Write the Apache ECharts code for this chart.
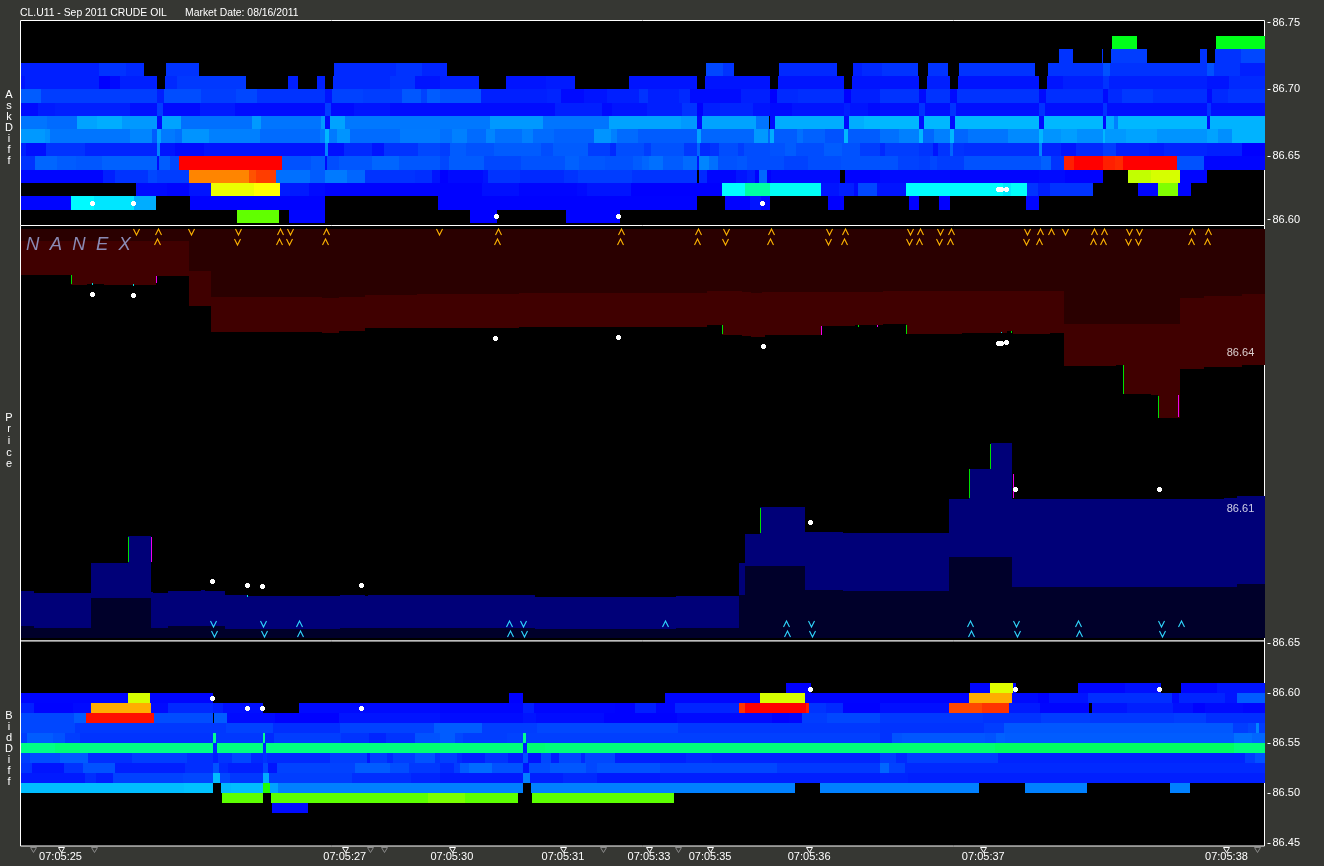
<!DOCTYPE html>
<html><head><meta charset="utf-8">
<style>html,body{margin:0;padding:0;background:#363733}#c{width:1324px;height:866px}</style>
<script src="https://cdn.jsdelivr.net/npm/echarts@6/dist/echarts.min.js"></script>
</head><body><div id="c"></div>
<script>
// x is the event sequence (the time labels are not evenly spaced); y is price.
// Heat rows: flat triplets of start, end, intensity (0 blue .. 1 red)
const askRow8673=[1112,1137,.475,1216,1264,.475];
const askRow8672=[1059,1073,.05,1102,1103,.05,1111,1147,.06,1200,1207,.05,1215,1241,.05,1241,1264,.07];
const askRow8671=[21,99,.03,99,126,.05,126,144,.04,166,199,.05,334,396,.04,396,422,.05,422,447,.035,706,723,.07,723,734,.05,779,837,.04,853,862,.03,862,882,.04,882,918,.05,928,948,.05,959,1035,.05,1048,1103,.05,1103,1110,.08,1110,1207,.05,1207,1214,.08,1214,1240,.05,1240,1264,.03];
const askRow8670=[21,25,.02,25,99,.03,99,110,0,110,120,.01,120,157,.03,165,177,.04,177,246,.055,288,298,.03,317,325,.03,333,390,.04,390,415,.05,415,440,.02,440,479,.03,506,546,.02,546,575,.025,629,697,.02,705,770,.02,778,844,.02,852,919,.02,927,950,.03,958,1039,.02,1047,1063,.02,1063,1103,.03,1103,1109,.05,1109,1207,.03,1207,1229,.02,1229,1264,.04];
const askRow8669=[21,41,.09,41,157,.06,157,164,.03,164,201,.075,201,236,.06,236,257,.07,257,325,.05,325,332,.02,332,363,.065,363,402,.06,402,421,.085,421,427,.065,427,440,.09,440,481,.08,481,547,.03,547,561,.035,561,584,.01,584,607,.02,607,639,.03,639,648,.05,648,679,.03,679,690,.04,690,741,.012,741,770,.03,770,777,0,777,798,.04,798,844,.045,844,851,0,851,880,.03,880,919,.05,919,926,.01,926,950,.05,950,957,.01,957,1039,.05,1039,1046,.01,1046,1103,.045,1103,1108,.01,1108,1122,.04,1122,1153,.055,1153,1207,.045,1207,1212,.01,1212,1228,.04,1228,1264,.05];
const askRow8668=[21,38,.01,38,55,.025,55,130,.03,130,157,.015,157,163,.06,163,200,.01,200,235,.025,235,325,.012,325,331,.06,331,354,.01,354,390,.02,390,555,.012,555,602,.03,602,612,.01,612,647,.02,647,682,.03,682,697,.05,697,703,0,703,720,.03,720,753,.035,753,770,.02,770,792,.01,792,844,.02,844,850,.03,850,868,.02,868,880,.01,880,919,.015,919,925,.05,925,950,.015,950,956,.05,956,1039,.015,1039,1045,.05,1045,1103,.015,1103,1107,.05,1107,1207,.015,1207,1211,.05,1211,1264,.015];
const askRow8667=[21,47,.115,47,77,.105,77,97,.16,97,122,.17,122,157,.15,157,162,.01,162,181,.16,181,252,.11,252,261,.15,261,321,.115,321,325,.15,325,330,.01,330,345,.16,345,490,.118,490,543,.15,543,609,.115,609,681,.16,681,697,.15,697,702,.01,702,756,.16,756,769,.115,770,775,.01,775,844,.17,844,849,.01,849,864,.17,864,919,.18,919,924,.015,924,950,.18,950,955,.01,955,1039,.18,1039,1044,.01,1044,1103,.18,1103,1106,.01,1106,1114,.17,1114,1118,.125,1118,1207,.18,1207,1210,.01,1210,1264,.175];
const askRow8666=[21,45,.15,45,50,.14,50,130,.115,130,152,.13,152,157,.09,157,161,.16,161,175,.12,175,182,.11,182,209,.145,209,260,.125,260,320,.105,320,325,.12,325,329,.18,329,337,.12,337,350,.145,350,400,.105,400,440,.12,440,452,.11,452,467,.125,467,486,.105,486,495,.13,495,522,.11,522,533,.125,533,554,.105,554,594,.095,594,611,.145,611,617,.125,617,638,.105,638,697,.09,697,701,.16,701,754,.1,754,768,.15,768,770,.1,770,774,.17,774,797,.09,797,803,.11,803,825,.095,825,844,.08,844,848,.18,848,880,.09,880,899,.11,899,919,.125,919,923,.18,923,934,.1,934,950,.125,950,954,.18,954,968,.1,968,1008,.115,1008,1039,.135,1039,1043,.18,1043,1061,.145,1061,1077,.155,1077,1103,.14,1103,1105,.18,1105,1126,.15,1126,1157,.16,1157,1207,.145,1207,1218,.16,1218,1232,.14,1232,1264,.175];
const askRow8665=[21,26,.03,26,46,.015,46,85,.05,85,157,.035,157,160,.13,160,175,.02,175,204,.01,204,325,.02,325,328,.13,328,344,.015,344,372,.04,372,384,.02,384,418,.05,418,440,.07,440,450,.06,450,466,.09,466,494,.08,494,541,.09,541,553,.075,553,588,.09,588,610,.06,610,616,.04,616,644,.075,644,651,.06,651,684,.08,684,697,.055,697,700,.1,700,710,.04,710,719,.05,719,738,.075,738,744,.06,744,770,.075,770,785,.08,785,796,.09,796,824,.075,824,842,.09,842,860,.08,860,880,.06,880,885,.04,885,919,.06,919,933,.05,933,938,.02,938,950,.05,950,953,.1,953,964,.05,964,1039,.045,1039,1042,.13,1042,1061,.035,1061,1076,.02,1076,1103,.04,1103,1116,.06,1116,1149,.03,1149,1164,.025,1164,1207,.035,1207,1242,.03,1242,1264,0];
const askRow8664=[21,35,.05,35,57,.1,57,76,.09,76,102,.085,102,157,.095,157,159,.01,159,170,.09,170,179,.07,179,282,1,282,311,.08,311,325,.09,325,327,.01,327,339,.075,339,372,.085,372,399,.1,399,440,.085,440,449,.07,449,484,.09,484,521,.07,521,565,.08,565,579,.095,579,605,.085,605,633,.08,633,642,.09,642,649,.1,649,663,.11,663,683,.09,683,697,.105,697,699,.02,699,709,.13,709,718,.11,718,737,.08,737,747,.085,747,784,.075,784,808,.065,808,841,.075,841,898,.08,898,919,.065,919,930,.06,930,937,.07,937,964,.06,964,1041,.08,1041,1051,.095,1051,1064,.05,1064,1074,.97,1074,1103,1,1103,1115,.97,1115,1123,.96,1123,1177,1,1177,1204,.08,1204,1264,.005];
const askRow8663=[21,103,.005,103,115,.03,115,148,.05,148,157,.07,157,189,.06,189,249,.87,249,256,.92,256,276,.94,276,310,.11,310,325,.09,325,347,.12,347,365,.1,365,415,.05,415,432,.045,432,440,.02,440,448,0,448,483,.01,483,488,.02,488,520,.05,520,564,.04,564,578,.05,578,632,.06,632,697,.05,699,707,.04,707,736,.005,736,747,.02,747,755,.03,755,759,0,759,767,.1,767,771,0,771,840,.01,845,880,.002,880,950,.01,950,1039,.005,1039,1065,.01,1065,1103,.002,1128,1151,.69,1151,1180,.71,1180,1207,.005];
const askRow8662=[136,167,.01,167,189,.005,189,211,.02,211,254,.73,254,280,.75,280,309,.025,309,325,.01,325,440,.003,440,482,.002,482,519,.015,519,577,.005,577,587,.01,587,631,.02,631,722,0,722,745,.25,745,770,.34,770,821,.26,821,839,.02,839,854,.03,854,858,.01,858,877,.07,877,906,.02,906,1003,.25,1003,1011,.23,1011,1027,.255,1027,1038,.05,1038,1050,.03,1050,1093,.05,1138,1158,.005,1158,1178,.625,1178,1191,.005];
const askRow8661=[21,71,.005,71,94,.245,94,134,.225,134,156,.17,190,325,.002,438,697,.002,725,750,.002,750,761,.02,761,770,.005,828,844,0,909,919,0,939,950,0,1026,1039,.005];
const askRow8660=[237,279,.595,289,325,.005,470,497,0,566,620,.002];

const bidRow8660=[786,811,0,970,990,.005,990,1013,.72,1013,1016,.005,1078,1125,.005,1125,1161,.015,1181,1217,.005,1217,1264,.02];
const bidRow8659=[21,128,.005,128,150,.71,150,213,.005,509,523,0,665,760,.005,760,805,.71,805,880,.004,880,969,.003,969,1012,.83,1012,1038,.01,1038,1049,.002,1049,1088,.02,1088,1172,.045,1172,1179,.01,1179,1225,.035,1225,1237,.02,1237,1264,.09];
const bidRow8658=[21,34,.03,34,73,.003,73,91,.01,91,151,.83,151,168,.01,168,213,.04,213,223,.03,223,263,.015,299,440,.01,440,523,.005,523,534,.03,534,615,.005,615,635,.002,635,656,.03,656,675,.005,675,739,.035,739,745,.95,745,806,1,806,809,.97,809,826,.05,826,843,.04,843,880,.002,880,949,.015,949,982,.93,982,1009,.95,1009,1040,.025,1040,1089,.005,1092,1127,.02,1127,1173,.03,1173,1193,.015,1193,1205,.002,1205,1243,.01,1243,1264,.005];
const bidRow8657=[21,74,.07,74,86,.09,86,154,.985,154,213,.075,214,227,.09,227,275,.01,275,339,.001,339,440,.02,440,523,.012,523,536,.02,536,604,.012,604,677,.002,677,772,.01,772,789,.001,789,802,.005,802,827,.06,827,880,.07,880,983,.055,983,1041,.05,1041,1090,.06,1090,1174,.055,1174,1206,.06,1206,1264,.045];
const bidRow8656=[21,75,.07,75,226,.055,226,273,.065,273,340,.045,340,434,.065,434,482,.09,482,537,.06,537,678,.07,678,880,.055,880,984,.05,984,1004,.06,1004,1233,.085,1233,1248,.06,1248,1256,.07,1256,1259,.13,1259,1264,.06];
const bidRow8655=[21,27,.06,27,53,.09,53,65,.08,65,80,.06,80,213,.05,213,216,.36,216,263,.055,263,265,.36,265,274,.04,274,341,.06,341,369,.05,369,386,.035,386,415,.05,415,440,.08,440,455,.09,455,463,.07,463,507,.06,507,523,.065,523,526,.36,526,880,.062,880,892,.05,892,902,.08,902,985,.085,985,996,.08,996,1005,.095,1005,1234,.09,1234,1252,.11,1252,1264,.1];
const bidRow8654=[21,55,.37,55,80,.385,80,213,.37,213,217,.04,217,263,.375,263,266,.04,266,410,.375,410,440,.39,440,523,.38,523,527,.03,527,545,.39,545,880,.38,880,995,.39,995,1234,.405,1234,1264,.38];
const bidRow8653=[21,30,.06,30,60,.075,60,88,.09,88,132,.045,132,187,.06,187,213,.045,213,218,.03,218,232,.05,232,251,.07,251,263,.04,263,267,.05,267,330,.04,330,367,.06,367,370,.02,370,387,.06,387,393,.04,393,415,.06,415,435,.08,435,440,.05,440,457,.06,457,462,.04,462,485,.03,485,508,.05,508,523,.03,523,528,.08,528,541,.02,541,551,.07,551,559,.03,559,581,.07,581,585,.04,585,615,.07,615,686,.03,686,712,.04,712,880,.035,880,896,.06,896,907,.04,907,998,.06,998,1245,.035,1245,1255,.06,1255,1264,.08];
const bidRow8652=[21,32,.05,32,64,.02,64,83,.05,83,115,.08,115,185,.03,185,213,.045,213,219,.08,219,228,.04,228,263,.03,263,268,.07,268,277,.02,277,355,.065,355,390,.09,390,409,.075,409,440,.055,440,454,.04,454,460,.06,460,469,.09,469,492,.105,492,523,.08,523,529,.02,529,550,.075,550,586,.085,586,597,.07,597,660,.08,660,777,.07,777,880,.055,880,889,.1,889,905,.065,905,1264,.04];
const bidRow8651=[21,85,.025,85,96,.045,96,113,.03,113,183,.065,183,213,.07,213,220,.185,220,230,.07,230,263,.055,263,269,.17,269,352,.06,352,411,.045,411,440,.035,440,523,.025,523,530,.125,530,563,.03,563,597,.04,597,660,.025,660,880,.03,880,908,.035,908,1264,.03];
const bidRow8650=[21,184,.185,184,213,.19,221,231,.18,231,263,.185,263,270,.53,270,278,.16,278,523,.125,531,795,.125,820,979,.125,1025,1087,.125,1170,1190,.125];
const bidRow8649=[222,263,.59,271,428,.59,428,465,.62,465,518,.59,532,674,.59];
const bidRow8648=[272,308,.01];

const askRowPrices=[86.73,86.72,86.71,86.70,86.69,86.68,86.67,86.66,86.65,86.64,86.63,86.62,86.61,86.60];
const askRows=[askRow8673,askRow8672,askRow8671,askRow8670,askRow8669,askRow8668,askRow8667,askRow8666,askRow8665,askRow8664,askRow8663,askRow8662,askRow8661,askRow8660];
const bidRowPrices=[86.60,86.59,86.58,86.57,86.56,86.55,86.54,86.53,86.52,86.51,86.50,86.49,86.48];
const bidRows=[bidRow8660,bidRow8659,bidRow8658,bidRow8657,bidRow8656,bidRow8655,bidRow8654,bidRow8653,bidRow8652,bidRow8651,bidRow8650,bidRow8649,bidRow8648];

// Price panel step edges: start, end, price
const askOuterEdge=[[21,189,86.6622],[189,211,86.6562],[211,322,86.6510],[322,339,86.6508],[339,365,86.6510],[365,417,86.6514],[417,519,86.6516],[519,707,86.6518],[707,742,86.6522],[742,751,86.6520],[751,762,86.6518],[762,883,86.6520],[883,1064,86.6522],[1064,1180,86.6456],[1180,1204,86.6508],[1204,1242,86.6512],[1242,1264,86.6516]];
const askInnerEdge=[[21,71,86.6554],[71,87,86.6534],[87,104,86.6537],[104,156,86.6535],[156,189,86.6552],[189,211,86.6492],[211,322,86.6440],[322,339,86.6438],[339,365,86.6442],[365,519,86.6448],[519,707,86.6450],[707,722,86.6454],[722,742,86.6434],[742,751,86.6432],[751,765,86.6430],[765,821,86.6434],[821,855,86.6452],[855,883,86.6454],[883,906,86.6456],[906,962,86.6436],[962,1007,86.6438],[1007,1013,86.6442],[1013,1050,86.6436],[1050,1064,86.6438],[1064,1116,86.6372],[1116,1123,86.6374],[1123,1151,86.6316],[1151,1158,86.6314],[1158,1180,86.6268],[1180,1204,86.6366],[1204,1242,86.6370],[1242,1264,86.6374]];
const bidUpperEdge=[[21,34,86.5922],[34,91,86.5918],[91,128,86.5978],[128,151,86.6032],[151,153,86.5920],[153,168,86.5918],[168,201,86.5922],[201,205,86.5924],[205,225,86.5922],[225,247,86.5914],[247,340,86.5912],[340,365,86.5914],[365,368,86.5912],[368,535,86.5914],[535,676,86.5910],[676,739,86.5912],[739,745,86.5978],[745,760,86.6036],[760,805,86.6090],[805,843,86.6040],[843,949,86.6038],[949,969,86.6106],[969,991,86.6166],[991,1012,86.6218],[1012,1224,86.6106],[1224,1237,86.6108],[1237,1264,86.6112]];
const bidLowerEdge=[[21,34,86.5852],[34,91,86.5848],[91,151,86.5908],[151,168,86.5848],[168,225,86.5852],[225,340,86.5846],[340,535,86.5848],[535,676,86.5846],[676,739,86.5848],[739,745,86.5914],[745,805,86.5972],[805,843,86.5924],[843,949,86.5922],[949,1012,86.5990],[1012,1237,86.5930],[1237,1264,86.5936]];
const askBandTop=86.6646, bidBandBase=86.5828;

// Trade-through marks: sequence, upper price, lower price
const greenMarks=[[71,86.6554,86.6536],[722,86.6454,86.6436],[858,86.6454,86.6450],[906,86.6454,86.6436],[1011,86.6442,86.6438],[1123,86.6374,86.6316],[1158,86.6312,86.6268],[128,86.6030,86.5980],[760,86.6088,86.6038],[969,86.6166,86.6108],[990,86.6216,86.6166]];
const magentaMarks=[[156,86.6552,86.6538],[821,86.6452,86.6434],[877,86.6454,86.6450],[1178,86.6314,86.6270],[151,86.6030,86.5980],[1013,86.6156,86.6108]];
const cyanMarks=[[92,86.6538,86.6534],[133,86.6536,86.6532],[1001,86.6440,86.6438],[247,86.5914,86.5910]];

// Trades (white dots)
const askTrades=[[92,86.6150],[133,86.6150],[496,86.6052],[618,86.6052],[762,86.6150],[998,86.6254],[1001,86.6254],[1006,86.6254]];
const priceTrades=[[92,86.6516],[133,86.6514],[212,86.5942],[247,86.5934],[262,86.5932],[361,86.5934],[495,86.6428],[618,86.6430],[763,86.6412],[810,86.6060],[998,86.6418],[1001,86.6418],[1006,86.6420],[1015,86.6126],[1159,86.6126]];
const bidTrades=[[212,86.5953],[247,86.5853],[262,86.5853],[361,86.5853],[810,86.6043],[1015,86.6043],[1159,86.6043]];

// Chevrons: sequence, direction (1 up, 0 down)
const askChevronsHigh=[[136,0],[158,1],[191,0],[238,0],[280,1],[290,0],[326,1],[439,0],[498,1],[621,1],[698,1],[726,0],[771,1],[829,0],[845,1],[910,0],[920,1],[940,0],[951,1],[1027,0],[1040,1],[1051,1],[1065,0],[1094,1],[1104,1],[1129,0],[1139,0],[1192,1],[1208,1]];
const askChevronsLow=[[157,1],[237,0],[279,1],[289,0],[325,1],[497,1],[620,1],[697,1],[725,0],[770,1],[828,0],[844,1],[909,0],[919,1],[939,0],[950,1],[1026,0],[1039,1],[1093,1],[1103,1],[1128,0],[1138,0],[1191,1],[1207,1]];
const bidChevronsHigh=[[213,0],[263,0],[299,1],[509,1],[523,0],[665,1],[786,1],[811,0],[970,1],[1016,0],[1078,1],[1161,0],[1181,1]];
const bidChevronsLow=[[214,0],[264,0],[300,1],[510,1],[524,0],[787,1],[812,0],[971,1],[1017,0],[1079,1],[1162,0]];
const chevronRowPrices={askHigh:86.6640,askLow:86.6620,bidHigh:86.5856,bidLow:86.5836};

// Axes
const timeTickValues=[61,345,452,563,649,710,809,983,1226];
const timeTickLabels=['07:05:25','07:05:27','07:05:30','07:05:31','07:05:33','07:05:35','07:05:36','07:05:37','07:05:38'];
const minorTickValues=[33,94,370,384,603,678,1257];
const askAxisTicks=[86.75,86.70,86.65,86.6025];
const bidAxisTicks=[86.65,86.60,86.55,86.50,86.45];
const lastPriceLabels=[[1240,86.6398,'86.64'],[1240,86.6086,'86.61']];

// ---- drawing
const jetStops=[[0,0,255],[0,255,255],[0,255,0],[255,255,0],[255,0,0]];
function jet(v){const t=Math.min(.9999,Math.max(0,v))*4,i=Math.floor(t),f=t-i,a=jetStops[i],b=jetStops[i+1];
  return 'rgb('+a.map((c,k)=>Math.round(c+(b[k]-c)*f)).join(',')+')';}
function rect(api,x0,x1,pTop,pBot,fill){
  const a=api.coord([x0,pTop]),b=api.coord([x1,pBot]);
  const l=Math.round(a[0]),t=Math.round(a[1]),r=Math.round(b[0]),bt=Math.round(b[1]);
  return {type:'rect',shape:{x:l,y:t,width:Math.max(1,r-l),height:Math.max(1,bt-t)},style:{fill:fill}};
}
function cellSeries(rows,prices,g,rowStep){
  const data=[];
  rows.forEach((row,i)=>{for(let k=0;k<row.length;k+=3)data.push([row[k],row[k+1],prices[i],row[k+2]]);});
  return {type:'custom',xAxisIndex:g,yAxisIndex:g,silent:true,clip:true,data:data,
    renderItem:(p,api)=>rect(api,api.value(0),api.value(1),api.value(2)+rowStep,api.value(2),jet(api.value(3)))};
}
function askBand(edge,color){return {type:'custom',xAxisIndex:1,yAxisIndex:1,silent:true,clip:true,data:edge,
  renderItem:(p,api)=>rect(api,api.value(0),api.value(1),askBandTop,api.value(2),color)};}
function bidBand(edge,color){return {type:'custom',xAxisIndex:1,yAxisIndex:1,silent:true,clip:true,data:edge,
  renderItem:(p,api)=>rect(api,api.value(0),api.value(1),api.value(2),bidBandBase,color)};}
function markSeries(marks,color){return {type:'custom',xAxisIndex:1,yAxisIndex:1,silent:true,data:marks,
  renderItem:(p,api)=>{const a=api.coord([api.value(0),api.value(1)]),b=api.coord([api.value(0),api.value(2)]);
    return {type:'rect',shape:{x:Math.round(a[0]),y:Math.round(a[1]),width:1,height:Math.max(1,Math.round(b[1]-a[1]))},style:{fill:color}};}};}
function chevrons(list,price,color){return {type:'custom',xAxisIndex:1,yAxisIndex:1,silent:true,data:list,
  renderItem:(p,api)=>{const c=api.coord([api.value(0),price]),x=Math.round(c[0])+.5,y=Math.round(c[1]),up=api.value(1)===1;
    return {type:'polyline',shape:{points:up?[[x-3,y+3],[x,y-3],[x+3,y+3]]:[[x-3,y-3],[x,y+3],[x+3,y-3]]},style:{fill:null,stroke:color,lineWidth:1.1}};}};}
function dots(list,g){return {type:'custom',xAxisIndex:g,yAxisIndex:g,silent:true,data:list,z:5,
  renderItem:(p,api)=>{const c=api.coord([api.value(0),api.value(1)]),x=Math.round(c[0]),y=Math.round(c[1]);
    return {type:'group',children:[
      {type:'rect',shape:{x:x-2,y:y-1,width:5,height:3},style:{fill:'#fff'}},
      {type:'rect',shape:{x:x-1,y:y-2,width:3,height:5},style:{fill:'#fff'}}]};}};}
function tickTriangles(list,color){return {type:'custom',xAxisIndex:2,yAxisIndex:2,silent:true,clip:false,data:list.map(v=>[v,86.4473]),
  renderItem:(p,api)=>{const c=api.coord([api.value(0),api.value(1)]),x=Math.round(c[0])+.5,y=Math.round(c[1])+1.5;
    return {type:'polygon',shape:{points:[[x-3,y],[x+3,y],[x,y+5]]},style:{fill:null,stroke:color,lineWidth:1}};}};}

const LABEL='#ffffff',FONT='"Liberation Sans",Arial,sans-serif';
const side=(text,top,lh)=>({text:text,left:9,top:top,padding:0,textAlign:'center',textStyle:{color:LABEL,fontSize:11,fontWeight:'normal',fontFamily:FONT,lineHeight:lh}});
const plain=(text,left,top)=>({text:text,left:left,top:top,padding:0,textStyle:{color:LABEL,fontSize:10.4,fontWeight:'normal',fontFamily:FONT}});
const gridBase={left:20.5,width:1244,show:true,backgroundColor:'#000',borderColor:'#fff',borderWidth:1,containLabel:false};
const xBase={type:'value',min:21,max:1264,axisLine:{show:false},axisTick:{show:false},splitLine:{show:false},axisLabel:{show:false}};
const yRight=(g,min,max,ticks)=>({type:'value',gridIndex:g,position:'right',min:min,max:max,offset:3,scale:true,
  splitLine:{show:false},axisLine:{show:false},
  axisTick:{show:true,length:3,customValues:ticks,lineStyle:{color:'#fff'}},
  axisLabel:{customValues:ticks,color:LABEL,fontSize:11,fontFamily:FONT,margin:5,padding:[5,0,0,0],formatter:v=>v.toFixed(2),hideOverlap:false}});

const option={
  animation:false,backgroundColor:'#363733',
  title:[plain('CL.U11 - Sep 2011 CRUDE OIL',20,8),plain('Market Date: 08/16/2011',185,8),
    side('A\ns\nk\nD\ni\nf\nf',89,11),side('P\nr\ni\nc\ne',412,11.6),side('B\ni\nd\nD\ni\nf\nf',710,11),
    {text:'N  A  N  E  X',left:26,top:235,padding:0,textStyle:{color:'#8a8ab4',fontSize:18.5,fontStyle:'italic',fontWeight:'normal',fontFamily:FONT}}],
  grid:[Object.assign({top:20.5,height:205},gridBase),Object.assign({top:225.5,height:415.5},gridBase),Object.assign({top:641,height:205},gridBase)],
  xAxis:[Object.assign({gridIndex:0},xBase),Object.assign({gridIndex:1},xBase),
    Object.assign({},xBase,{gridIndex:2,axisLabel:{show:true,customValues:timeTickValues,color:LABEL,fontSize:11,fontFamily:FONT,margin:5,
      formatter:v=>timeTickLabels[timeTickValues.indexOf(v)]||'',hideOverlap:false}})],
  yAxis:[yRight(0,86.59813,86.75157,askAxisTicks),
    {type:'value',gridIndex:1,min:86.5822,max:86.6653,scale:true,position:'right',axisLine:{show:false},axisTick:{show:false},axisLabel:{show:false},splitLine:{show:false}},
    yRight(2,86.4473,86.6523,bidAxisTicks)],
  series:[
    cellSeries(askRows,askRowPrices,0,.01),
    dots(askTrades,0),
    askBand(askInnerEdge,'#400000'),askBand(askOuterEdge,'#2a0000'),
    bidBand(bidUpperEdge,'#000078'),bidBand(bidLowerEdge,'#00002a'),
    markSeries(greenMarks,'#00e000'),markSeries(magentaMarks,'#f000f0'),markSeries(cyanMarks,'#00e0e0'),
    chevrons(askChevronsHigh,chevronRowPrices.askHigh,'#ffb400'),chevrons(askChevronsLow,chevronRowPrices.askLow,'#ffb400'),
    chevrons(bidChevronsHigh,chevronRowPrices.bidHigh,'#30d8ff'),chevrons(bidChevronsLow,chevronRowPrices.bidLow,'#30d8ff'),
    dots(priceTrades,1),
    {type:'scatter',xAxisIndex:1,yAxisIndex:1,silent:true,symbolSize:0,data:lastPriceLabels.map(d=>[d[0],d[1]]),
      label:{show:true,position:'inside',color:LABEL,fontSize:11,fontFamily:FONT,formatter:p=>lastPriceLabels[p.dataIndex][2]},z:6},
    cellSeries(bidRows,bidRowPrices,2,.01),
    dots(bidTrades,2),
    tickTriangles(timeTickValues,'#ffffff'),tickTriangles(minorTickValues,'#8a8a8a')
  ]
};
const chart=echarts.init(document.getElementById('c'),null,{renderer:'canvas',width:1324,height:866});
chart.setOption(option);
</script></body></html>
